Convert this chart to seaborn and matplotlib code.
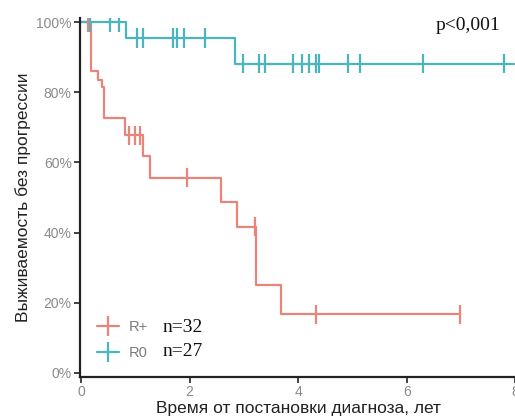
import numpy as np
import pandas as pd
import matplotlib
matplotlib.use("Agg")
import matplotlib.pyplot as plt
from matplotlib.lines import Line2D
import seaborn as sns

# ---- data ----
groups = ["R+", "R0"]
n_labels = ["n=32", "n=27"]

red_times = [0.0, 0.18, 0.31, 0.39, 0.43, 0.81, 1.14, 1.27, 2.58, 2.87, 3.22, 3.68, 6.98]
red_surv = [1.0, 0.86, 0.835, 0.815, 0.727, 0.678, 0.619, 0.556, 0.486, 0.417, 0.251, 0.167, 0.167]
red_censor = [0.13, 0.88, 0.99, 1.09, 1.95, 3.20, 4.33, 6.98]

teal_times = [0.0, 0.83, 2.84, 7.97]
teal_surv = [1.0, 0.955, 0.882, 0.882]
teal_censor = [0.17, 0.53, 0.69, 1.03, 1.14, 1.69, 1.77, 1.90, 2.28, 2.98, 3.28,
               3.39, 3.90, 4.07, 4.20, 4.33, 4.38, 4.92, 5.14, 6.30, 7.79]

x_ticks = [0, 2, 4, 6, 8]
y_ticks = [0, 0.2, 0.4, 0.6, 0.8, 1.0]
y_ticklabels = ["0%", "20%", "40%", "60%", "80%", "100%"]

colors = {"R+": "#E8857B", "R0": "#4AB5BF"}


def step_value(times, surv, t):
    idx = np.searchsorted(np.asarray(times), t, side="right") - 1
    return np.asarray(surv)[idx]


curves = pd.concat([
    pd.DataFrame({"time": red_times, "surv": red_surv, "group": "R+"}),
    pd.DataFrame({"time": teal_times, "surv": teal_surv, "group": "R0"}),
])
cens = pd.concat([
    pd.DataFrame({"time": red_censor,
                  "surv": [step_value(red_times, red_surv, t) for t in red_censor],
                  "group": "R+"}),
    pd.DataFrame({"time": teal_censor,
                  "surv": [step_value(teal_times, teal_surv, t) for t in teal_censor],
                  "group": "R0"}),
])

sns.set_theme(style="white")
plt.rcParams["font.family"] = ["Liberation Sans", "DejaVu Sans"]

fig = plt.figure(figsize=(5.15, 4.2), dpi=100)
ax = fig.add_axes([80 / 515, 43 / 420, 436 / 515, 359 / 420])

sns.lineplot(data=curves, x="time", y="surv", hue="group", palette=colors,
             drawstyle="steps-post", estimator=None, linewidth=1.6,
             legend=False, ax=ax, hue_order=groups)
sns.scatterplot(data=cens, x="time", y="surv", hue="group", palette=colors,
                marker="|", s=190, linewidth=1.6, legend=False, ax=ax,
                hue_order=groups, zorder=3)

ax.set_xlim(-0.02, 8.01)
ax.set_ylim(-0.012, 1.012)
ax.set_xticks(x_ticks)
ax.set_xticklabels([str(v) for v in x_ticks])
ax.set_yticks(y_ticks)
ax.set_yticklabels(y_ticklabels)
ax.tick_params(axis="both", which="both", length=4, width=1.2, color="#222222",
               labelsize=10, labelcolor="#8a8a8a", pad=2, bottom=True, left=True)

for side in ["top", "right"]:
    ax.spines[side].set_visible(False)
for side in ["left", "bottom"]:
    ax.spines[side].set_color("#222222")
    ax.spines[side].set_linewidth(1.6)

ax.set_xlabel("Время от постановки диагноза, лет", fontsize=12.5, color="#222222", labelpad=1)
ax.set_ylabel("Выживаемость без прогрессии", fontsize=12.5, color="#222222", labelpad=4)

handles = [Line2D([0], [0], color=colors[g], lw=1.6, marker="|", markersize=14,
                  markeredgewidth=1.6) for g in groups]
leg = ax.legend(handles, groups, loc="center left", frameon=False,
                bbox_to_anchor=(84 / 515, 1 - 340 / 420), bbox_transform=fig.transFigure,
                handlelength=1.5, handletextpad=0.7, labelspacing=0.85,
                fontsize=10.5)
for t in leg.get_texts():
    t.set_color("#7a7a7a")

for i, lab in enumerate(n_labels):
    fig.text(163 / 515, 1 - (327 + 25 * i) / 420, lab, family="Liberation Serif",
             fontsize=14, color="#111111", va="center", ha="left")

fig.text(500 / 515, 1 - 25 / 420, "p<0,001", family="Liberation Serif",
         fontsize=14, color="#111111", va="center", ha="right")

fig.savefig("out.png", dpi=100)
